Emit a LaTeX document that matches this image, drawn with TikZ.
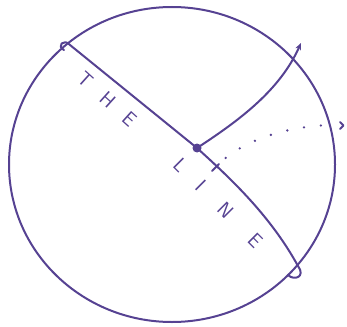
\documentclass[tikz,border=0pt]{standalone}
\usepackage{tikz}
\usetikzlibrary{arrows.meta}
\definecolor{ink}{RGB}{86,66,146}
\tikzset{
  pen/.style={draw=ink,line width=2pt,line cap=round,line join=round},
  lbl/.style={text=ink,font=\sffamily\fontsize{20}{20}\selectfont,inner sep=0pt}
}

\begin{document}
\begin{tikzpicture}[x=1pt,y=-1pt,>=stealth]
\useasboundingbox (0,0) rectangle (347,326);
\coordinate (c) at (172,164.5);
\draw[pen](c)ellipse[x radius = 163, y radius = 157.5];
% the line, with its two little loops
\coordinate (a) at (70,45);
\coordinate (b) at (298,266);
\node[circle,fill=ink,inner sep=0pt,minimum size=9pt] (o) at (197,148) {};
\draw[pen](a)--(o.center) .. controls (230,178) and (270,215) .. (b);
\draw[pen](a) .. controls (64,38) and (56,46) .. (64,50);
\draw[pen](b) .. controls (306,277) and (294,281) .. (288,275);
% way out
\draw[pen,-{Stealth[length=7pt,width=6pt]}](o.center) .. controls (240,120) and (280,90) .. (301,43);
% tick and dotted way
\coordinate (t) at (215.5,167.5);
\draw[pen](212,171)--(219,164);
\coordinate (e) at (336,125);
\draw[pen,line width=2.6pt,dash pattern=on 0pt off 17pt,dash phase=3pt]
  (t) .. controls (240,140) and (290,125) .. (e);
\draw[pen](340,122)--(343.5,125.5)--(340,129);
% labels
\node[lbl,rotate=-42] (the) at (107,99) {T\kern17pt H\kern17pt E};
\node[lbl,rotate=-45] (line) at (218,203) {L\kern21pt I\kern26pt N\kern30pt E};
\end{tikzpicture}
\end{document}
